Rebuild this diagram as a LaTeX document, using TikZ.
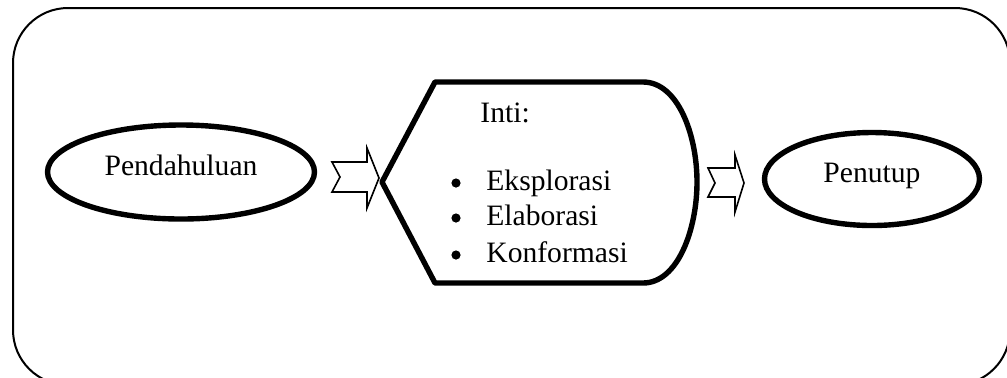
\documentclass[tikz,border=0pt]{standalone}
\usepackage{fontspec}
\setmainfont{Liberation Serif}
\usetikzlibrary{shapes,positioning}

\tikzset{
  tahap/.style={draw, ellipse, line width=2.7pt, inner sep=0pt, text height=0.7em, text depth=0.36em},
  teks/.style={inner sep=0pt},
  titik/.style={circle, fill, inner sep=0pt, minimum size=4.6pt},
  panah/.style={draw, line width=0.8pt, line join=miter, fill=white}
}

\begin{document}
\begin{tikzpicture}[x=0.5pt, y=-0.5pt, font=\fontsize{14.8pt}{17pt}\selectfont]
        \useasboundingbox (0,0) rectangle (1007,377);

        % bingkai
        \begin{scope}
            \clip (0,0) rectangle (1007,377);
            \draw[line width=1pt, rounded corners=27.5pt] (13,8) rectangle (1010,385);
        \end{scope}

        % Pendahuluan
        \node[tahap, minimum width=133.5pt, minimum height=47pt] (pendahuluan) at (181,172) {Pendahuluan};

        % Inti
        \draw[line width=2.7pt, line join=round] (382,182) -- (435,82) -- (643,82)
            .. controls (678,82) and (697,135) .. (697,182)
            .. controls (697,229) and (678,283) .. (643,283) -- (435,283) -- cycle;
        \node[teks, anchor=base west] (inti) at (480,122) {Inti:};
        \node[titik] (b1) at (456,183) {};
        \node[titik] (b2) at (456,218) {};
        \node[titik] (b3) at (456,255) {};
        \node[teks, anchor=base west] (eksplorasi) at (486,190) {Eksplorasi};
        \node[teks, anchor=base west] (elaborasi) at (486,225) {Elaborasi};
        \node[teks, anchor=base west] (konformasi) at (486,262) {Konformasi};

        % Penutup
        \node[tahap, minimum width=107.5pt, minimum height=46.5pt] (penutup) at (872,179) {Penutup};

        % panah
        \draw[panah] (332,162) -- (367,162) -- (367,148) -- (379,178) -- (367,208) -- (367,192) -- (332,192) -- (340,177) -- cycle;
        \draw[panah] (708,168) -- (735,168) -- (735,155) -- (744,183) -- (735,212) -- (735,197) -- (708,197) -- (715,183) -- cycle;
    \end{tikzpicture}
\end{document}
